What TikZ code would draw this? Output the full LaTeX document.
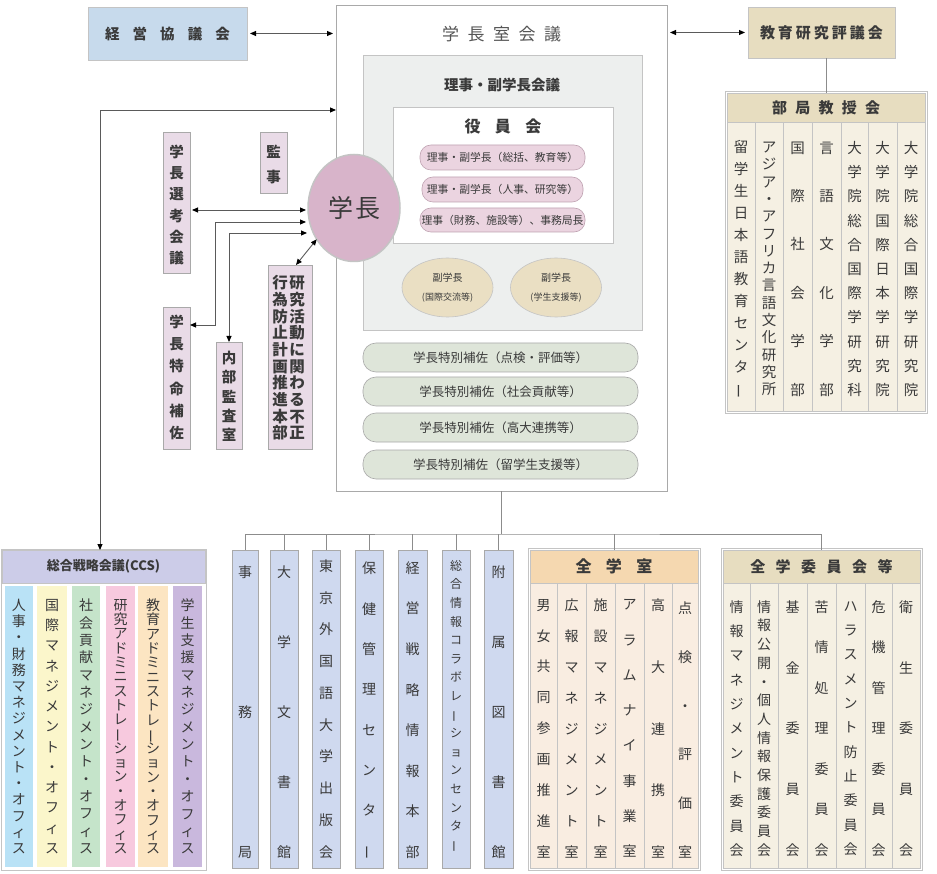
\documentclass[tikz,border=0pt]{standalone}
\usepackage{fontspec}
\setmainfont{Noto Sans CJK JP}
\usetikzlibrary{arrows.meta,shapes.geometric}
\definecolor{txt}{HTML}{3A3A3A}
\definecolor{txtl}{HTML}{555555}
\definecolor{frm}{HTML}{A9A9A9}
\definecolor{frml}{HTML}{C4C4C4}
\definecolor{keieiblue}{HTML}{C7DAEC}
\definecolor{tanh}{HTML}{E7DDC0}
\definecolor{cream}{HTML}{F5F0E3}
\definecolor{greyin}{HTML}{EDEFEE}
\definecolor{pinkp}{HTML}{EBD4E0}
\definecolor{pinkb}{HTML}{BFA3B2}
\definecolor{mauve}{HTML}{D8B4CA}
\definecolor{vpfill}{HTML}{EADFC3}
\definecolor{greenp}{HTML}{DEE5D9}
\definecolor{lilac}{HTML}{E9DBE7}
\definecolor{colblue}{HTML}{CFD9EF}
\definecolor{ccsh}{HTML}{CCCCE8}
\definecolor{cA}{HTML}{B9E2F6}
\definecolor{cB}{HTML}{FBF6CB}
\definecolor{cC}{HTML}{C5E4CA}
\definecolor{cD}{HTML}{F7C9DE}
\definecolor{cE}{HTML}{FCE5C2}
\definecolor{cF}{HTML}{C9B8DD}
\definecolor{peachh}{HTML}{F5D8B0}
\definecolor{peachc}{HTML}{F9EDE1}
\definecolor{arrg}{HTML}{5A5A5A}
\definecolor{treeg}{HTML}{8C8C8C}
\makeatletter
\newcommand\spaced[2]{\def\sp@sep{\hspace{#1}}\sp@first#2\@nil}
\def\sp@first#1{\ifx#1\@nil\else#1\expandafter\sp@rest\fi}
\def\sp@rest#1{\ifx#1\@nil\else\sp@sep#1\expandafter\sp@rest\fi}
\makeatother
\newcommand\boxat[7]{\node[#2,minimum width={(#5)-(#3)},minimum height={(#6)-(#4)}] (#1) at ({((#3)+(#5))/2},{((#4)+(#6))/2}) {#7};}
\newcommand\vtext[8]{\pgfmathsetmacro\vtskip{((#5)-(#4))/((#6)-1)}\node[#2,font=\fontsize{#7}{\vtskip}\selectfont] (#1) at (#3,{((#4)+(#5))/2}) {#8};}
\newcommand\vb{\rotatebox[origin=c]{90}{ー}}
\tikzset{
 every node/.style={inner sep=0pt,outer sep=0pt,text=txt},
 bluebox/.style={fill=keieiblue,draw=frml,line width=0.8pt,font=\bfseries\fontsize{14.5}{14.5}\selectfont},
 tanbox/.style={fill=tanh,draw=frml,line width=0.8pt,font=\bfseries\fontsize{15}{15}\selectfont},
 outerbox/.style={fill=white,draw=frm,line width=0.8pt},
 greybox/.style={fill=greyin,draw=frml,line width=0.6pt},
 whitebox/.style={fill=white,draw=frml,line width=0.6pt},
 pinkpill/.style={rounded corners=11pt,fill=pinkp,draw=pinkb,line width=0.6pt,font=\fontsize{10.8}{10.8}\selectfont},
 greenpill/.style={rounded corners=13pt,fill=greenp,draw=frm,line width=0.6pt,font=\fontsize{12.5}{12.5}\selectfont},
 vp/.style={ellipse,fill=vpfill,draw=frml,line width=0.6pt,minimum width=91pt,minimum height=59pt,align=center,font=\fontsize{9}{19}\selectfont},
 circ/.style={ellipse,fill=mauve,draw=frml,line width=1.5pt,minimum width=92pt,minimum height=107pt,font=\fontsize{25}{25}\selectfont},
 lbox/.style={fill=lilac,draw=frm,line width=0.6pt},
 vt/.style={align=center,text width=22pt,execute at begin node={\lineskiplimit=-50pt\relax}},
 vtb/.style={vt,execute at begin node={\bfseries}},
 tanhead/.style={fill=tanh,draw=frml,line width=0.6pt,font=\bfseries\fontsize{15}{15}\selectfont},
 creamcol/.style={fill=cream,draw=frml,line width=0.6pt},
 bluecol/.style={fill=colblue,draw=frm,line width=0.6pt},
 ccshead/.style={fill=ccsh,draw=frml,line width=0.6pt,font=\bfseries\fontsize{13}{13}\selectfont},
 ccscol/.style={fill=#1,draw=none},
 peachhead/.style={fill=peachh,draw=frml,line width=0.6pt,font=\bfseries\fontsize{16}{16}\selectfont},
 peachcol/.style={fill=peachc,draw=frml,line width=0.6pt},
 grpframe/.style={draw=frml,line width=0.6pt},
 arr/.style={draw=arrg,line width=0.9pt,{Triangle[length=6pt,width=5pt,color=black]}-{Triangle[length=6pt,width=5pt,color=black]}},
 tree/.style={draw=treeg,line width=1pt},
}
\begin{document}
\begin{tikzpicture}[x=1pt,y=-1pt]
\useasboundingbox (0,0) rectangle (937,874);
% top boxes
\boxat{keiei}{bluebox}{88}{7}{247}{60}{\spaced{0.9em}{経営協議会}}
\boxat{kyoiku}{tanbox}{748}{7}{895}{58}{\spaced{0.2em}{教育研究評議会}}
% president's office
\boxat{sitsu}{outerbox}{336}{5}{667}{491}{}
\node[font=\fontsize{17}{17}\selectfont,text=txtl] (sitsut) at (501.5,34) {\spaced{0.5em}{学長室会議}};
\boxat{riji}{greybox}{363}{55}{642}{330}{}
\node[font=\bfseries\fontsize{14.5}{14.5}\selectfont] (rijit) at (502,85) {理事・副学長会議};
\boxat{yakuin}{whitebox}{393}{107}{613}{243}{}
\node[font=\bfseries\fontsize{16}{16}\selectfont] (yakuint) at (503,126) {\spaced{0.9em}{役員会}};
\boxat{pa}{pinkpill}{420}{145}{585}{170}{理事・副学長（総括、教育等）}
\boxat{pb}{pinkpill}{422}{177}{583}{202}{理事・副学長（人事、研究等）}
\boxat{pc}{pinkpill}{420}{208}{585}{232}{理事（財務、施設等）、事務局長}
\node[vp] (vpa) at (447.5,287.5) {{\fontsize{10}{19}\selectfont 副学長}\\(国際交流等)};
\node[vp] (vpb) at (556,287.5) {{\fontsize{10}{19}\selectfont 副学長}\\(学生支援等)};
\boxat{sa}{greenpill}{363}{343}{638}{372}{学長特別補佐（点検・評価等）}
\boxat{sb}{greenpill}{363}{377}{638}{406}{学長特別補佐（社会貢献等）}
\boxat{sc}{greenpill}{363}{413}{638}{442}{学長特別補佐（高大連携等）}
\boxat{sd}{greenpill}{363}{450}{638}{479}{学長特別補佐（留学生支援等）}
\node[circ] (gakucho) at (354,208) {\spaced{0.08em}{学長}};
% left boxes
\boxat{sengi}{lbox}{163}{132}{190}{273}{}
\vtext{sengit}{vtb}{176.5}{152}{258}{6}{14.5}{学\\長\\選\\考\\会\\議}
\boxat{kanji}{lbox}{260}{132}{287}{193}{}
\vtext{kanjit}{vtb}{273.5}{152}{177}{2}{14.5}{監\\事}
\boxat{tokumei}{lbox}{163}{307}{190}{449}{}
\vtext{tokumeit}{vtb}{176.5}{322}{433}{6}{14.5}{学\\長\\特\\命\\補\\佐}
\boxat{naibu}{lbox}{216}{342}{242}{449}{}
\vtext{naibut}{vtb}{229}{358}{435}{5}{14.5}{内\\部\\監\\査\\室}
\boxat{kenkyu}{lbox}{268}{265}{312}{449}{}
\vtext{kenkyua}{vtb}{297}{283}{433}{10}{15.5}{研\\究\\活\\動\\に\\関\\わ\\る\\不\\正}
\vtext{kenkyub}{vtb}{280}{283}{433}{10}{15.5}{行\\為\\防\\止\\計\\画\\推\\進\\本\\部}
% arrows around the president
\coordinate (ga) at (306,210);
\coordinate (gb) at (306,222);
\coordinate (gc) at (307,233);
\draw[arr,shorten <=2pt] (sengi.east |- ga) -- (ga);
\draw[arr] (tokumei.east |- 0,325) -| (215,222) -- (gb);
\draw[arr] (naibu.north) |- (gc);
\draw[arr] ([xshift=6pt]kenkyu.north) -- (gakucho.220);
\draw[arr,shorten <=3pt,shorten >=3pt] (keiei.east) -- (keiei.east -| sitsu.west);
\draw[arr,shorten <=3pt,shorten >=3pt] (sitsu.east |- kyoiku.west) -- (kyoiku.west);
% faculty council
\draw[grpframe] (725,91) rectangle (927,413);
\boxat{bukyoku}{tanhead}{727}{93}{925}{122}{\spaced{0.55em}{部局教授会}}
\draw[tree] (kyoiku.south -| bukyoku.north) -- (bukyoku.north);
\boxat{bka}{creamcol}{727}{122}{755}{411}{}
\boxat{bkb}{creamcol}{755}{122}{783}{411}{}
\boxat{bkc}{creamcol}{783}{122}{812}{411}{}
\boxat{bkd}{creamcol}{812}{122}{841}{411}{}
\boxat{bke}{creamcol}{841}{122}{868}{411}{}
\boxat{bkf}{creamcol}{868}{122}{897}{411}{}
\boxat{bkg}{creamcol}{897}{122}{925}{411}{}
\vtext{bkat}{vt}{741}{148}{390}{12}{14.5}{留\\学\\生\\日\\本\\語\\教\\育\\セ\\ン\\タ\\\vb}
\vtext{bkbt}{vt}{769}{148}{390}{15}{14.5}{ア\\ジ\\ア\\・\\ア\\フ\\リ\\カ\\言\\語\\文\\化\\研\\究\\所}
\vtext{bkct}{vt}{797.5}{148}{390}{6}{14.5}{国\\際\\社\\会\\学\\部}
\vtext{bkdt}{vt}{826.5}{148}{390}{6}{14.5}{言\\語\\文\\化\\学\\部}
\vtext{bket}{vt}{854.5}{148}{390}{11}{14.5}{大\\学\\院\\総\\合\\国\\際\\学\\研\\究\\科}
\vtext{bkft}{vt}{882.5}{148}{390}{11}{14.5}{大\\学\\院\\国\\際\\日\\本\\学\\研\\究\\院}
\vtext{bkgt}{vt}{911}{148}{390}{11}{14.5}{大\\学\\院\\総\\合\\国\\際\\学\\研\\究\\院}
% CCS
\draw[grpframe] (1,549) rectangle (206,870);
\boxat{ccs}{ccshead}{2}{550}{205}{583}{総合戦略会議(CCS)}
\boxat{ccsa}{ccscol=cA}{5}{586}{33}{867}{}
\boxat{ccsb}{ccscol=cB}{37}{586}{67}{867}{}
\boxat{ccsc}{ccscol=cC}{72}{586}{100}{867}{}
\boxat{ccsd}{ccscol=cD}{106}{586}{135}{867}{}
\boxat{ccse}{ccscol=cE}{138}{586}{168}{867}{}
\boxat{ccsf}{ccscol=cF}{173}{586}{202}{867}{}
\vtext{ccsat}{vt}{19}{605}{848}{16}{14}{人\\事\\・\\財\\務\\マ\\ネ\\ジ\\メ\\ン\\ト\\・\\オ\\フ\\ィ\\ス}
\vtext{ccsbt}{vt}{52}{605}{848}{13}{14}{国\\際\\マ\\ネ\\ジ\\メ\\ン\\ト\\・\\オ\\フ\\ィ\\ス}
\vtext{ccsct}{vt}{86}{605}{848}{15}{14}{社\\会\\貢\\献\\マ\\ネ\\ジ\\メ\\ン\\ト\\・\\オ\\フ\\ィ\\ス}
\vtext{ccsdt}{vt}{120.5}{605}{848}{18}{14}{研\\究\\ア\\ド\\ミ\\ニ\\ス\\ト\\レ\\\vb\\シ\\ョ\\ン\\・\\オ\\フ\\ィ\\ス}
\vtext{ccset}{vt}{153}{605}{848}{18}{14}{教\\育\\ア\\ド\\ミ\\ニ\\ス\\ト\\レ\\\vb\\シ\\ョ\\ン\\・\\オ\\フ\\ィ\\ス}
\vtext{ccsft}{vt}{187.5}{605}{848}{15}{14}{学\\生\\支\\援\\マ\\ネ\\ジ\\メ\\ン\\ト\\・\\オ\\フ\\ィ\\ス}
\draw[arr] (ccs.north -| 100,0) |- (sitsu.west |- 0,110);
% bottom blue columns
\boxat{jimu}{bluecol}{232}{550}{258}{868}{}
\vtext{jimut}{vt}{245}{572}{852}{3}{14}{事\\務\\局}
\boxat{bunsho}{bluecol}{270}{550}{298}{868}{}
\vtext{bunshot}{vt}{284}{572}{852}{5}{14}{大\\学\\文\\書\\館}
\boxat{shuppan}{bluecol}{312}{550}{340}{868}{}
\vtext{shuppant}{vt}{326}{566}{852}{10}{14}{東\\京\\外\\国\\語\\大\\学\\出\\版\\会}
\boxat{hoken}{bluecol}{355}{550}{383}{868}{}
\vtext{hokent}{vt}{369}{570}{852}{8}{14}{保\\健\\管\\理\\セ\\ン\\タ\\\vb}
\boxat{senryaku}{bluecol}{398}{550}{427}{868}{}
\vtext{senryakut}{vt}{412.5}{568}{852}{8}{14}{経\\営\\戦\\略\\情\\報\\本\\部}
\boxat{collab}{bluecol}{442}{550}{470}{868}{}
\vtext{collabt}{vt}{456}{567}{846}{16}{12}{総\\合\\情\\報\\コ\\ラ\\ボ\\レ\\\vb\\シ\\ョ\\ン\\セ\\ン\\タ\\\vb}
\boxat{fuzoku}{bluecol}{484}{550}{513}{868}{}
\vtext{fuzokut}{vt}{498.5}{572}{852}{5}{14}{附\\属\\図\\書\\館}
% zengaku shitsu
\draw[grpframe] (528,548) rectangle (700,870);
\boxat{zenshitsu}{peachhead}{530}{550}{698}{583}{\spaced{0.9em}{全学室}}
\boxat{zsa}{peachcol}{530}{583}{557}{868}{}
\boxat{zsb}{peachcol}{557}{583}{586}{868}{}
\boxat{zsc}{peachcol}{586}{583}{615}{868}{}
\boxat{zsd}{peachcol}{615}{583}{644}{868}{}
\boxat{zse}{peachcol}{644}{583}{672}{868}{}
\boxat{zsf}{peachcol}{672}{583}{698}{868}{}
\vtext{zsat}{vt}{543.5}{605}{852}{9}{14}{男\\女\\共\\同\\参\\画\\推\\進\\室}
\vtext{zsbt}{vt}{571.5}{605}{852}{9}{14}{広\\報\\マ\\ネ\\ジ\\メ\\ン\\ト\\室}
\vtext{zsct}{vt}{600.5}{605}{852}{9}{14}{施\\設\\マ\\ネ\\ジ\\メ\\ン\\ト\\室}
\vtext{zsdt}{vt}{629.5}{605}{852}{8}{14}{ア\\ラ\\ム\\ナ\\イ\\事\\業\\室}
\vtext{zset}{vt}{658}{605}{852}{5}{14}{高\\大\\連\\携\\室}
\vtext{zsft}{vt}{685}{608}{852}{6}{14}{点\\検\\・\\評\\価\\室}
% zengaku iinkai
\draw[grpframe] (721,548) rectangle (922,870);
\boxat{zeniin}{tanhead}{723}{550}{920}{583}{\spaced{0.7em}{全学委員会等}}
\boxat{zia}{creamcol}{723}{583}{750}{868}{}
\boxat{zib}{creamcol}{750}{583}{778}{868}{}
\boxat{zic}{creamcol}{778}{583}{807}{868}{}
\boxat{zid}{creamcol}{807}{583}{836}{868}{}
\boxat{zie}{creamcol}{836}{583}{865}{868}{}
\boxat{zif}{creamcol}{865}{583}{892}{868}{}
\boxat{zig}{creamcol}{892}{583}{920}{868}{}
\vtext{ziat}{vt}{736.5}{607}{850}{11}{14}{情\\報\\マ\\ネ\\ジ\\メ\\ン\\ト\\委\\員\\会}
\vtext{zibt}{vt}{764}{607}{850}{14}{14}{情\\報\\公\\開\\・\\個\\人\\情\\報\\保\\護\\委\\員\\会}
\vtext{zict}{vt}{792.5}{607}{850}{5}{14}{基\\金\\委\\員\\会}
\vtext{zidt}{vt}{821.5}{607}{850}{7}{14}{苦\\情\\処\\理\\委\\員\\会}
\vtext{ziet}{vt}{850.5}{607}{850}{11}{14}{ハ\\ラ\\ス\\メ\\ン\\ト\\防\\止\\委\\員\\会}
\vtext{zift}{vt}{878.5}{607}{850}{7}{14}{危\\機\\管\\理\\委\\員\\会}
\vtext{zigt}{vt}{906}{607}{850}{5}{14}{衛\\生\\委\\員\\会}
% tree
\coordinate (bus) at (sitsu.south |- 0,534);
\draw[tree] (sitsu.south) -- (bus);
\draw[tree] (jimu.north) |- (bus) -| (zeniin.north);
\foreach \n in {bunsho,shuppan,hoken,senryaku,collab,fuzoku,zenshitsu}
  \draw[tree] (\n.north) -- (\n.north |- bus);
\end{tikzpicture}
\end{document}
